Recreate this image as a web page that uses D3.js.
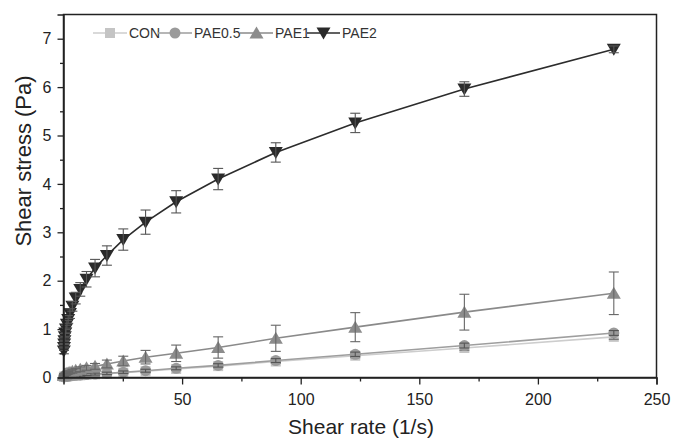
<!DOCTYPE html>
<html>
<head>
<meta charset="utf-8">
<script src="https://cdn.jsdelivr.net/npm/d3@7"></script>
<style>
  html, body { margin: 0; padding: 0; background: #fff; }
  svg { display: block; font-family: "Liberation Sans", Arial, sans-serif; }
</style>
</head>
<body>
<svg id="chart" width="674" height="441"></svg>
<script>
// Shear rate (1/s) for every measured point
const shearRate = [232, 169, 123, 89.5, 65.2, 47.5, 34.6, 25.2, 18.3, 13.3, 9.7, 7.07,
  5.14, 3.74, 2.72, 1.98, 1.44, 1.05, 0.76, 0.56, 0.40, 0.29, 0.21, 0.15];

// Shear stress (Pa) per sample
const conStress = [0.84, 0.61, 0.45, 0.33, 0.235, 0.175, 0.13, 0.10, 0.078, 0.063, 0.053, 0.045,
  0.040, 0.035, 0.031, 0.027, 0.024, 0.022, 0.020, 0.018, 0.016, 0.014, 0.013, 0.011];
const pae05Stress = [0.92, 0.66, 0.48, 0.35, 0.25, 0.19, 0.14, 0.11, 0.085, 0.07, 0.06, 0.05,
  0.045, 0.04, 0.035, 0.03, 0.028, 0.025, 0.023, 0.02, 0.018, 0.016, 0.015, 0.013];
const pae1Stress = [1.74, 1.35, 1.04, 0.81, 0.62, 0.50, 0.42, 0.34, 0.28, 0.23, 0.20, 0.17,
  0.15, 0.13, 0.11, 0.10, 0.09, 0.08, 0.07, 0.065, 0.06, 0.055, 0.05, 0.045];
const pae2Stress = [6.78, 5.96, 5.26, 4.65, 4.10, 3.63, 3.21, 2.85, 2.52, 2.26, 2.03, 1.82,
  1.64, 1.47, 1.32, 1.20, 1.10, 1.00, 0.92, 0.84, 0.76, 0.69, 0.62, 0.55];

// Standard deviations (Pa)
const conErr = [0.05, 0.045, 0.04, 0.035, 0.03, 0.03, 0.03, 0.025, 0.025, 0.02, 0.02, 0.02,
  0.02, 0.02, 0.02, 0.02, 0.02, 0.02, 0.02, 0.02, 0.02, 0.02, 0.02, 0.02];
const pae05Err = [0.05, 0.05, 0.045, 0.04, 0.035, 0.03, 0.03, 0.025, 0.025, 0.02, 0.02, 0.02,
  0.02, 0.02, 0.02, 0.02, 0.02, 0.02, 0.02, 0.02, 0.02, 0.02, 0.02, 0.02];
const pae1Err = [0.44, 0.37, 0.30, 0.27, 0.22, 0.17, 0.14, 0.10, 0.08, 0.06, 0.05, 0.05,
  0.04, 0.04, 0.03, 0.03, 0.03, 0.03, 0.02, 0.02, 0.02, 0.02, 0.02, 0.02];
const pae2Err = [0.07, 0.15, 0.20, 0.20, 0.22, 0.23, 0.25, 0.22, 0.20, 0.18, 0.16, 0.14,
  0.12, 0.10, 0.10, 0.08, 0.08, 0.08, 0.07, 0.07, 0.06, 0.06, 0.06, 0.06];

const seriesNames = ["CON", "PAE0.5", "PAE1", "PAE2"];

const xTicks = [50, 100, 150, 200, 250];
const yTicks = [0, 1, 2, 3, 4, 5, 6, 7];

const series = [
  { name: seriesNames[0], y: conStress, err: conErr, shape: "square",
    line: "#cdcdcd", fill: "#c4c4c4", bar: "#6a6a6a" },
  { name: seriesNames[1], y: pae05Stress, err: pae05Err, shape: "circle",
    line: "#9e9e9e", fill: "#9a9a9a", bar: "#555" },
  { name: seriesNames[2], y: pae1Stress, err: pae1Err, shape: "triangle",
    line: "#8a8a8a", fill: "#8c8c8c", bar: "#666" },
  { name: seriesNames[3], y: pae2Stress, err: pae2Err, shape: "triangleDown",
    line: "#2c2c2c", fill: "#2a2a2a", bar: "#555" }
];

const svg = d3.select("#chart");
const margin = { left: 63.5, right: 674 - 656.5, top: 14.5, bottom: 441 - 377.5 };
const W = 674, H = 441;

const x = d3.scaleLinear().domain([0, 250]).range([margin.left, W - margin.right]);
const y = d3.scaleLinear().domain([0, 7.5]).range([H - margin.bottom, margin.top]);

// marker paths centred on the origin
function markerPath(shape) {
  if (shape === "square") return "M-5,-5H5V5H-5Z";
  if (shape === "circle") return d3.symbol(d3.symbolCircle, 95)();
  if (shape === "triangle") return "M0,-6.5L7,5.5H-7Z";
  return "M0,6.5L7,-5.5H-7Z";
}

const plot = svg.append("g");
const clipId = "plotClip";
svg.append("clipPath").attr("id", clipId).append("rect")
  .attr("x", margin.left).attr("y", margin.top)
  .attr("width", x(250) - x(0)).attr("height", y(0) - y(7.5));

series.forEach(s => {
  const pts = shearRate.map((r, i) => ({ r, v: s.y[i], e: s.err[i] }));
  const g = plot.append("g");

  g.append("path")
    .datum(pts)
    .attr("fill", "none")
    .attr("stroke", s.line)
    .attr("stroke-width", 1.6)
    .attr("d", d3.line().x(d => x(d.r)).y(d => y(d.v)));

  g.selectAll("path.mk").data(pts).join("path")
    .attr("class", "mk")
    .attr("transform", d => `translate(${x(d.r)},${y(d.v)})`)
    .attr("d", markerPath(s.shape))
    .attr("fill", s.fill);

  const eb = g.selectAll("g.eb").data(pts).join("g").attr("class", "eb")
    .attr("stroke", s.bar).attr("stroke-width", 1.1).attr("fill", "none");
  eb.append("line")
    .attr("x1", d => x(d.r)).attr("x2", d => x(d.r))
    .attr("y1", d => y(d.v + d.e)).attr("y2", d => y(Math.max(0, d.v - d.e)));
  eb.append("line")
    .attr("x1", d => x(d.r) - 5).attr("x2", d => x(d.r) + 5)
    .attr("y1", d => y(d.v + d.e)).attr("y2", d => y(d.v + d.e));
  eb.filter(d => d.v - d.e > 0).append("line")
    .attr("x1", d => x(d.r) - 5).attr("x2", d => x(d.r) + 5)
    .attr("y1", d => y(d.v - d.e)).attr("y2", d => y(d.v - d.e));
});

// frame
svg.append("rect")
  .attr("x", margin.left).attr("y", margin.top)
  .attr("width", x(250) - x(0)).attr("height", y(0) - y(7.5))
  .attr("fill", "none").attr("stroke", "#222").attr("stroke-width", 1.5);

// bottom axis
const xAxis = svg.append("g").attr("transform", `translate(0,${y(0)})`)
  .call(d3.axisBottom(x).tickValues(xTicks).tickSize(7).tickPadding(9));
svg.append("g").attr("transform", `translate(0,${y(0)})`)
  .call(d3.axisBottom(x).tickValues([25, 75, 125, 175, 225]).tickSize(4).tickFormat(""))
  .call(g => g.select(".domain").remove())
  .selectAll("line").attr("stroke", "#222").attr("stroke-width", 1.3);

// left axis
const yAxis = svg.append("g").attr("transform", `translate(${x(0)},0)`)
  .call(d3.axisLeft(y).tickValues(yTicks).tickSize(6).tickPadding(6));
svg.append("g").attr("transform", `translate(${x(0)},0)`)
  .call(d3.axisLeft(y).tickValues([0.5, 1.5, 2.5, 3.5, 4.5, 5.5, 6.5]).tickSize(3.5).tickFormat(""))
  .call(g => g.select(".domain").remove())
  .selectAll("line").attr("stroke", "#222").attr("stroke-width", 1.3);

[xAxis, yAxis].forEach(a => {
  a.select(".domain").attr("stroke", "#222").attr("stroke-width", 1.5);
  a.selectAll(".tick line").attr("stroke", "#222").attr("stroke-width", 1.3);
  a.selectAll(".tick text")
    .attr("font-family", "'Liberation Sans', Arial, sans-serif")
    .attr("font-size", 16).attr("fill", "#222");
});

// axis titles
svg.append("text")
  .attr("x", 361).attr("y", 434)
  .attr("text-anchor", "middle")
  .attr("font-size", 21).attr("fill", "#222")
  .text("Shear rate (1/s)");
svg.append("text")
  .attr("transform", "translate(31,161) rotate(-90)")
  .attr("text-anchor", "middle")
  .attr("font-size", 22).attr("fill", "#222")
  .text("Shear stress (Pa)");

// legend
const legendItems = [
  { x0: 93, x1: 127, tx: 129 },
  { x0: 158, x1: 192, tx: 194 },
  { x0: 240, x1: 273, tx: 275 },
  { x0: 307, x1: 340, tx: 342 }
];
const ly = 33;
const legend = svg.append("g");
series.forEach((s, i) => {
  const it = legendItems[i];
  legend.append("line")
    .attr("x1", it.x0).attr("x2", it.x1).attr("y1", ly).attr("y2", ly)
    .attr("stroke", s.line).attr("stroke-width", 1.6);
  legend.append("path")
    .attr("transform", `translate(${(it.x0 + it.x1) / 2},${ly})`)
    .attr("d", markerPath(s.shape))
    .attr("fill", s.fill);
  legend.append("text")
    .attr("x", it.tx).attr("y", ly + 5)
    .attr("font-size", 14).attr("fill", "#333")
    .text(s.name);
});
</script>
</body>
</html>
